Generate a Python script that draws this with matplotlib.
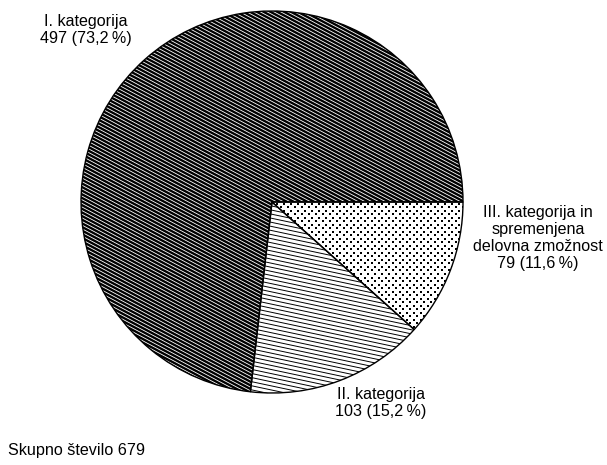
import numpy as np
import matplotlib
matplotlib.use("Agg")
import matplotlib.pyplot as plt
from matplotlib.collections import LineCollection

plt.rcParams['font.family'] = ['Liberation Sans', 'DejaVu Sans']

# data (clockwise from 3 o'clock)
categories = ["III. kategorija in\nspremenjena\ndelovna zmožnost", "II. kategorija", "I. kategorija"]
counts = [79, 103, 497]
percents = ["11,6", "15,2", "73,2"]
total = 679

W, H = 607, 465
fig = plt.figure(figsize=(W / 100, H / 100), dpi=100)
ax = fig.add_axes([0, 0, 1, 1])

cx, cy, r = 272, H - 202, 191

wedges, _ = ax.pie(counts, center=(cx, cy), radius=r, startangle=0,
                   counterclock=False,
                   colors=["white", "white", "black"],
                   wedgeprops=dict(linewidth=0, zorder=1))


def hatch_lines(wedge, angle, spacing, color, lw):
    a = np.deg2rad(angle)
    d = np.array([np.cos(a), np.sin(a)])
    n = np.array([-np.sin(a), np.cos(a)])
    segs = []
    for k in np.arange(-r - 5, r + 5, spacing):
        p = np.array([cx, cy]) + k * n
        segs.append([p - (r + 5) * d, p + (r + 5) * d])
    lc = LineCollection(segs, colors=color, linewidths=lw, zorder=2)
    ax.add_collection(lc)
    lc.set_clip_path(wedge)


# I. kategorija: black with white diagonal lines
hatch_lines(wedges[2], -28, 3.2, "white", 0.6)
# II. kategorija: thin nearly horizontal lines
hatch_lines(wedges[1], -12, 4.0, "black", 0.7)

# III. kategorija: dot pattern
step = 7.0
pts = []
for j, yy in enumerate(np.arange(cy - r, cy + r, step / 2)):
    off = (j % 2) * step / 2
    for xx in np.arange(cx - r + off, cx + r, step):
        pts.append((xx, yy))
pts = np.array(pts)
sc = ax.scatter(pts[:, 0], pts[:, 1], s=2.2, marker='s', c="black",
                linewidths=0, zorder=2)
sc.set_clip_path(wedges[0])

# outlines
ax.pie(counts, center=(cx, cy), radius=r, startangle=0,
       counterclock=False,
       wedgeprops=dict(facecolor="none", edgecolor="black", linewidth=1.0, zorder=3))

fs = 11.6
ls = 1.15
labels = [f"{c}\n{n} ({p}\u2009%)" for c, n, p in zip(categories, counts, percents)]
ax.text(538, H - 238, labels[0], ha="center", va="center", fontsize=fs, linespacing=ls)
ax.text(381, H - 403, labels[1], ha="center", va="center", fontsize=fs, linespacing=ls)
ax.text(86, H - 30, labels[2], ha="center", va="center", fontsize=fs, linespacing=ls)
ax.text(8, H - 451, f"Skupno število {total}", ha="left", va="center", fontsize=fs)

ax.set_xlim(0, W)
ax.set_ylim(0, H)
ax.set_aspect("equal")
ax.axis("off")

fig.savefig("out.png", dpi=100)
